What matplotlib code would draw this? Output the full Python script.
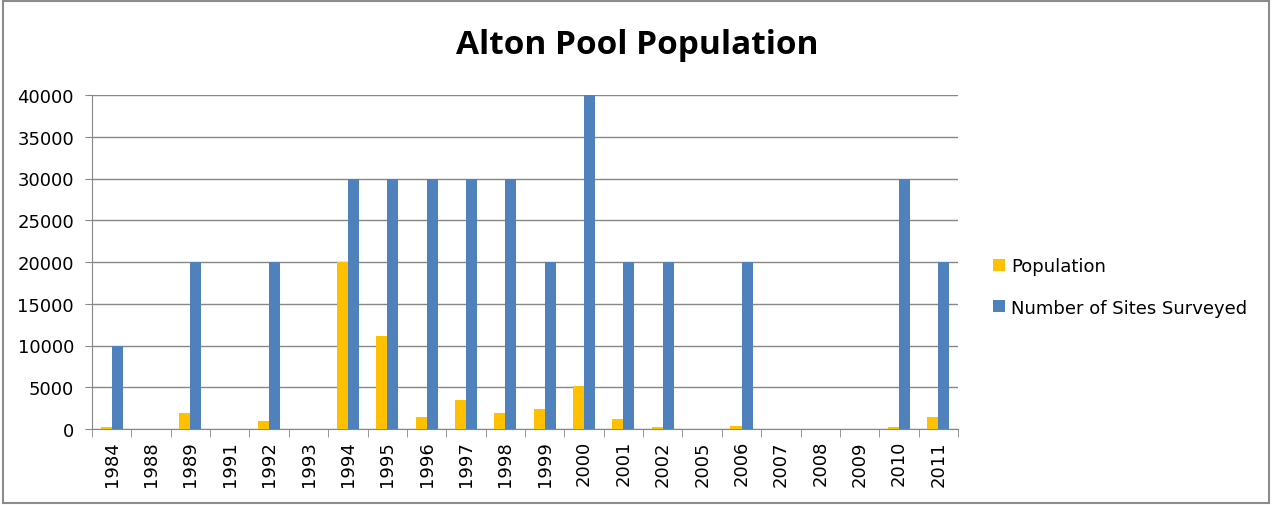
import numpy as np
import matplotlib
matplotlib.use('Agg')
import matplotlib.pyplot as plt
from matplotlib.patches import Rectangle

years = ['1984', '1988', '1989', '1991', '1992', '1993', '1994', '1995', '1996', '1997', '1998',
         '1999', '2000', '2001', '2002', '2005', '2006', '2007', '2008', '2009', '2010', '2011']
population = [200, 0, 1900, 0, 1000, 0, 20000, 11100, 1400, 3450, 1900,
              2350, 5150, 1250, 200, 0, 300, 0, 0, 0, 200, 1400]
sites = [10000, 0, 20000, 0, 20000, 0, 30000, 30000, 30000, 30000, 30000,
         20000, 40000, 20000, 20000, 0, 20000, 0, 0, 0, 30000, 20000]

yellow = '#FFC000'
blue = '#4F81BD'
grid_col = '#878787'

fig = plt.figure(figsize=(12.72, 5.06), dpi=100)
ax = fig.add_axes([92 / 1272, 1 - 430 / 506, 866 / 1272, 334 / 506])

x = np.arange(len(years))
w = 0.28
ax.bar(x - w / 2, population, w, color=yellow, label='Population', zorder=3)
ax.bar(x + w / 2, sites, w, color=blue, label='Number of Sites Surveyed', zorder=3)

ax.set_xlim(-0.5, len(years) - 0.5)
ax.set_ylim(0, 40000)
ax.set_yticks(range(0, 40001, 5000))
ax.tick_params(axis='y', labelsize=13, length=5, color=grid_col, pad=8)
ax.yaxis.grid(True, color=grid_col, linewidth=1, zorder=0)

ax.set_xticks(x)
ax.set_xticklabels(years, rotation=90, fontsize=13)
ax.set_xticks(np.arange(-0.5, len(years)), minor=True)
ax.tick_params(axis='x', which='major', length=0, pad=8)
ax.tick_params(axis='x', which='minor', length=6, color=grid_col)

for side in ['top', 'right']:
    ax.spines[side].set_visible(False)
ax.spines['left'].set_color(grid_col)
ax.spines['bottom'].set_color(grid_col)

fig.text(637 / 1272, 1 - 46 / 506, 'Alton Pool Population', ha='center', va='center',
         fontsize=24, fontweight='bold', family='Open Sans')

leg = fig.legend(loc='center left', bbox_to_anchor=(977 / 1272, 1 - 288 / 506), frameon=False,
                 fontsize=13, handlelength=0.65, handleheight=0.65, handletextpad=0.35,
                 labelspacing=1.3)

fig.patches.append(Rectangle((0.002, 0.004), 0.996, 0.992, transform=fig.transFigure,
                             fill=False, edgecolor='#8c8c8c', linewidth=1.5))

fig.savefig('out.png', dpi=100)
